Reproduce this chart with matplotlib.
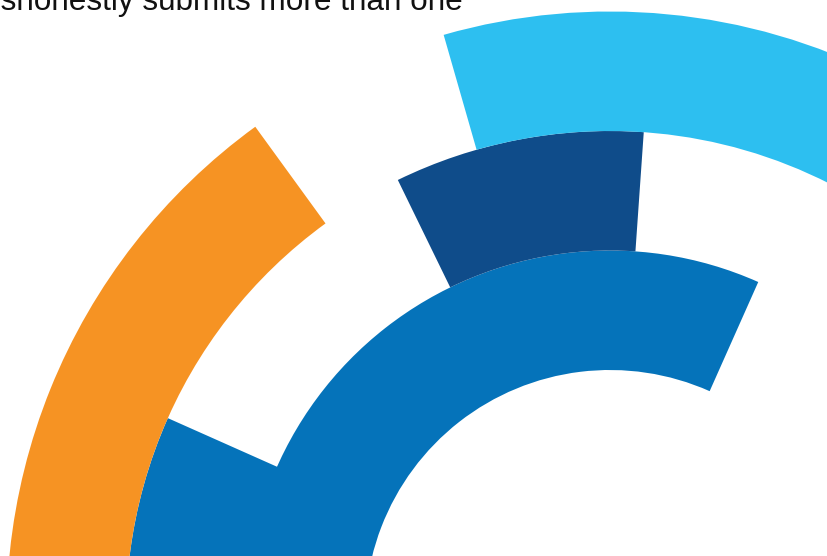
import matplotlib
matplotlib.use("Agg")
import matplotlib.pyplot as plt
from matplotlib.patches import Wedge

# segments of the radial chart (ring 0 = innermost), angles in degrees
seg_ring = [2, 2, 1, 1, 0]
seg_start = [126, 20, 156, 86, 66]
seg_end = [190, 106, 190, 116, 190]
seg_color = ["#F69323", "#2DBFF0", "#0573BA", "#0F4C8A", "#0573BA"]

title_line = "dishonestly submits more than one"

# figure in pixel units
W, H = 828, 556
fig = plt.figure(figsize=(W / 100, H / 100), dpi=100)
ax = fig.add_axes([0, 0, 1, 1])
ax.set_xlim(0, W)
ax.set_ylim(0, H)
ax.set_aspect("equal")
ax.axis("off")

# chart centre sits below the visible area
cx, cy = 610, H - 615
hole = 245
ring_w = 119.5


def same_colour_below(i):
    # True if the ring just inside has the same colour under this whole span
    for j in range(len(seg_ring)):
        if (seg_ring[j] == seg_ring[i] - 1 and seg_color[j] == seg_color[i]
                and seg_start[j] <= seg_start[i] and seg_end[j] >= seg_end[i]):
            return True
    return False


order = sorted(range(len(seg_ring)), key=lambda i: seg_ring[i])
for i in order:
    outer = hole + (seg_ring[i] + 1) * ring_w
    # overlap same-coloured neighbours so no anti-aliasing seam shows
    w = ring_w + (3 if same_colour_below(i) else 0)
    ax.add_patch(Wedge((cx, cy), outer, seg_start[i], seg_end[i], width=w,
                       facecolor=seg_color[i], edgecolor="none"))

fig.text(463 / W, 1 - 10 / H, title_line, ha="right", va="baseline",
         fontsize=22.7, family="Liberation Sans", color="#111111")

fig.savefig("out.png", dpi=100)
